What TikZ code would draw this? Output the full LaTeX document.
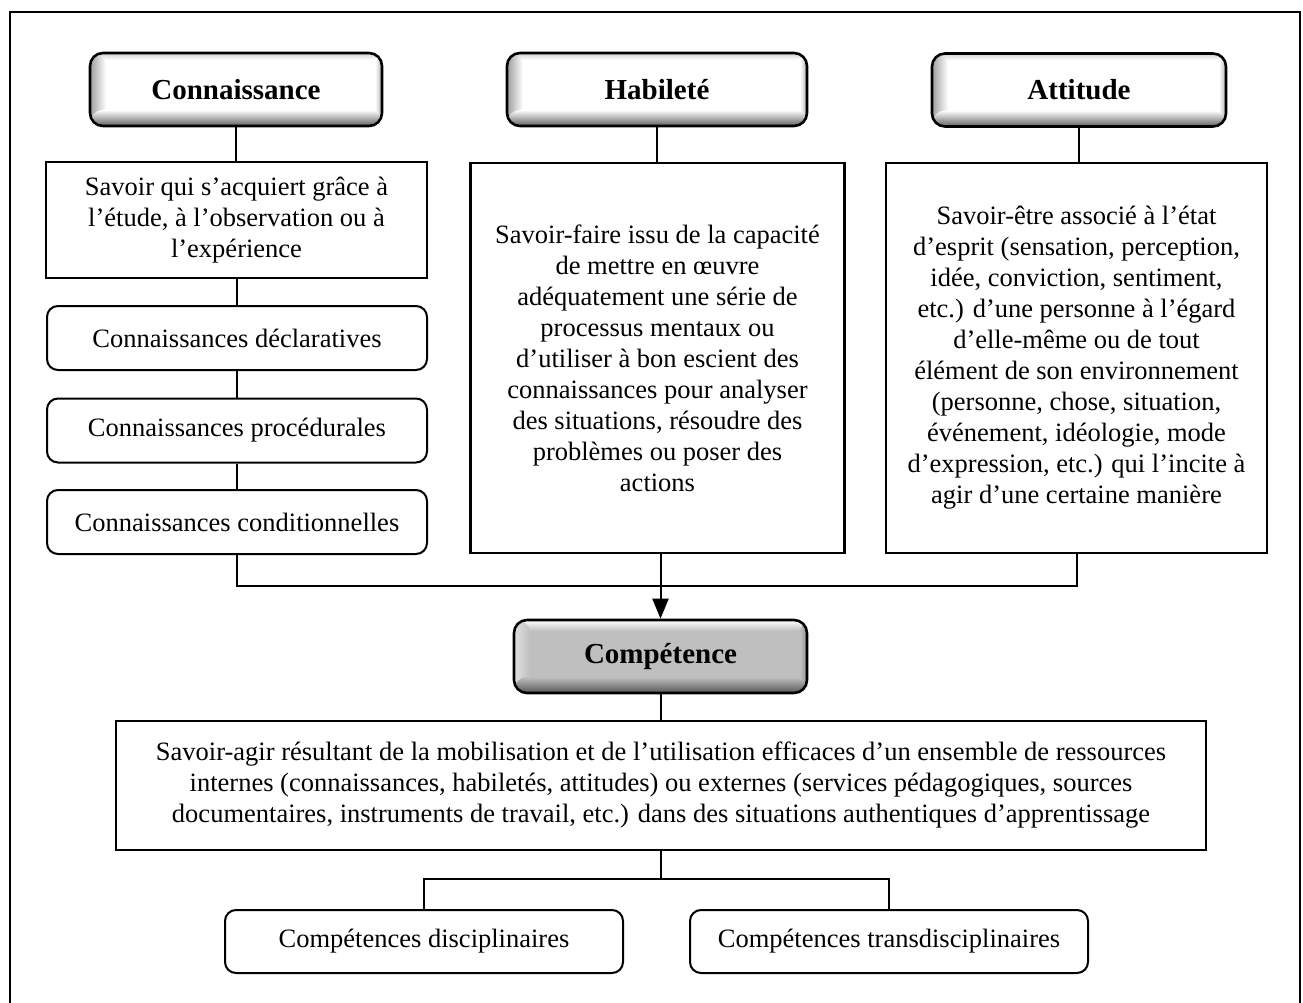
\documentclass[tikz,border=0pt]{standalone}
\usepackage{fontspec}
\setmainfont{Liberation Serif}
\usetikzlibrary{arrows.meta,calc}
\newcommand\mybody{\fontsize{26.5}{31}\selectfont}
\newcommand\myhdr{\fontsize{29}{34}\selectfont\bfseries}
\tikzset{
  conn/.style={line width=2pt},
  descbox/.style={draw, line width=2.4pt, align=center, inner sep=0pt, font=\mybody},
  itembox/.style={draw, line width=2pt, rounded corners=11pt, align=center, inner sep=0pt, font=\mybody},
  hdrbase/.style={draw, line width=2.6pt, rounded corners=13pt, inner sep=0pt, font=\myhdr},
  hdrwhite/.style={hdrbase, path picture={
    \fill[white] (path picture bounding box.south west) rectangle (path picture bounding box.north east);
    \shade[top color=black!18, bottom color=white] ([yshift=-7pt]path picture bounding box.north west) rectangle (path picture bounding box.north east);
    \shade[left color=black!38, right color=white] (path picture bounding box.south west) rectangle ([xshift=16pt]path picture bounding box.north west);
    \shade[left color=white, right color=black!30] ([xshift=-7pt]path picture bounding box.south east) rectangle (path picture bounding box.north east);
    \shade[top color=white, bottom color=black!62] (path picture bounding box.south west) rectangle ([yshift=16pt]path picture bounding box.south east);
  }},
  hdrgray/.style={hdrbase, path picture={
    \fill[black!25] (path picture bounding box.south west) rectangle (path picture bounding box.north east);
    \shade[top color=white, bottom color=black!25] ([yshift=-11pt]path picture bounding box.north west) rectangle (path picture bounding box.north east);
    \shade[left color=black!12, right color=black!25] (path picture bounding box.south west) rectangle ([xshift=16pt]path picture bounding box.north west);
    \shade[left color=black!25, right color=black!42] ([xshift=-7pt]path picture bounding box.south east) rectangle (path picture bounding box.north east);
    \shade[top color=black!25, bottom color=black!66] (path picture bounding box.south west) rectangle ([yshift=16pt]path picture bounding box.south east);
  }},
}
\begin{document}
\begin{tikzpicture}[x=1pt,y=-1pt]
\useasboundingbox (0,0) rectangle (1303,1003);
\clip (0,0) rectangle (1303,1003);
\fill[white] (0,0) rectangle (1303,1003);
% outer frame (open at the bottom)
\draw[line width=2.2pt] (10,1010) -- (10,12) -- (1300,12) -- (1300,1010);

% headers
\node[hdrwhite, minimum width=292pt, minimum height=73pt] (H1) at (236,89.5) {Connaissance};
\node[hdrwhite, minimum width=300pt, minimum height=73pt] (H2) at (657,89.5) {Habileté};
\node[hdrwhite, minimum width=294pt, minimum height=73pt] (H3) at (1079,90) {Attitude};

% descriptions
\node[descbox, minimum width=381pt, minimum height=116pt] (D1) at (236.5,220)
  {Savoir qui s’acquiert grâce à\\ l’étude, à l’observation ou à\\ l’expérience};
\node[descbox, minimum width=374pt, minimum height=390pt] (D2) at (657.5,358)
  {Savoir-faire issu de la capacité\\ de mettre en œuvre\\ adéquatement une série de\\ processus mentaux ou\\ d’utiliser à bon escient des\\ connaissances pour analyser\\ des situations, résoudre des\\ problèmes ou poser des\\ actions};
\node[descbox, minimum width=381pt, minimum height=390pt] (D3) at (1076.5,358)
  {Savoir-être associé à l’état\\ d’esprit (sensation, perception,\\ idée, conviction, sentiment,\\ etc.) d’une personne à l’égard\\ d’elle-même ou de tout\\ élément de son environnement\\ (personne, chose, situation,\\ événement, idéologie, mode\\ d’expression, etc.) qui l’incite à\\ agir d’une certaine manière};

% knowledge types
\node[itembox, minimum width=380pt, minimum height=64pt] (C1) at (237,338) {Connaissances déclaratives};
\node[itembox, minimum width=380pt, minimum height=64pt] (C2) at (237,430.5) {Connaissances procédurales};
\node[itembox, minimum width=380pt, minimum height=64pt] (C3) at (237,522) {Connaissances conditionnelles};

% competence
\node[hdrgray, minimum width=293pt, minimum height=73pt] (HC) at (660.5,656.5) {Compétence};
\node[descbox, minimum width=1090pt, minimum height=129pt] (B) at (661,785.5)
  {Savoir-agir résultant de la mobilisation et de l’utilisation efficaces d’un ensemble de ressources\\ internes (connaissances, habiletés, attitudes) ou externes (services pédagogiques, sources\\ documentaires, instruments de travail, etc.) dans des situations authentiques d’apprentissage};

\node[itembox, minimum width=398pt, minimum height=63pt] (S1) at (424,941.5) {Compétences disciplinaires};
\node[itembox, minimum width=398pt, minimum height=63pt] (S2) at (889,941.5) {Compétences transdisciplinaires};

% connectors
\coordinate (bus) at (0,586);
\coordinate (bus2) at (0,879);
\draw[conn] (H1.south) -- (H1.south |- D1.north);
\draw[conn] (D1.south) -- (D1.south |- C1.north);
\draw[conn] (C1.south) -- (C1.south |- C2.north);
\draw[conn] (C2.south) -- (C2.south |- C3.north);
\draw[conn] (C3.south) -- (C3.south |- bus) -| (D3.south);
\draw[conn] (H2.south) -- (H2.south |- D2.north);
\draw[conn] (H3.south) -- (H3.south |- D3.north);
\draw[conn, -{Triangle[length=20pt,width=16pt]}] (HC.north |- D2.south) -- (HC.north);
\draw[conn] (HC.south) -- (HC.south |- B.north);
\draw[conn] (B.south) -- (B.south |- bus2);
\draw[conn] (S1.north) -- (S1.north |- bus2) -| (S2.north);
\end{tikzpicture}
\end{document}
